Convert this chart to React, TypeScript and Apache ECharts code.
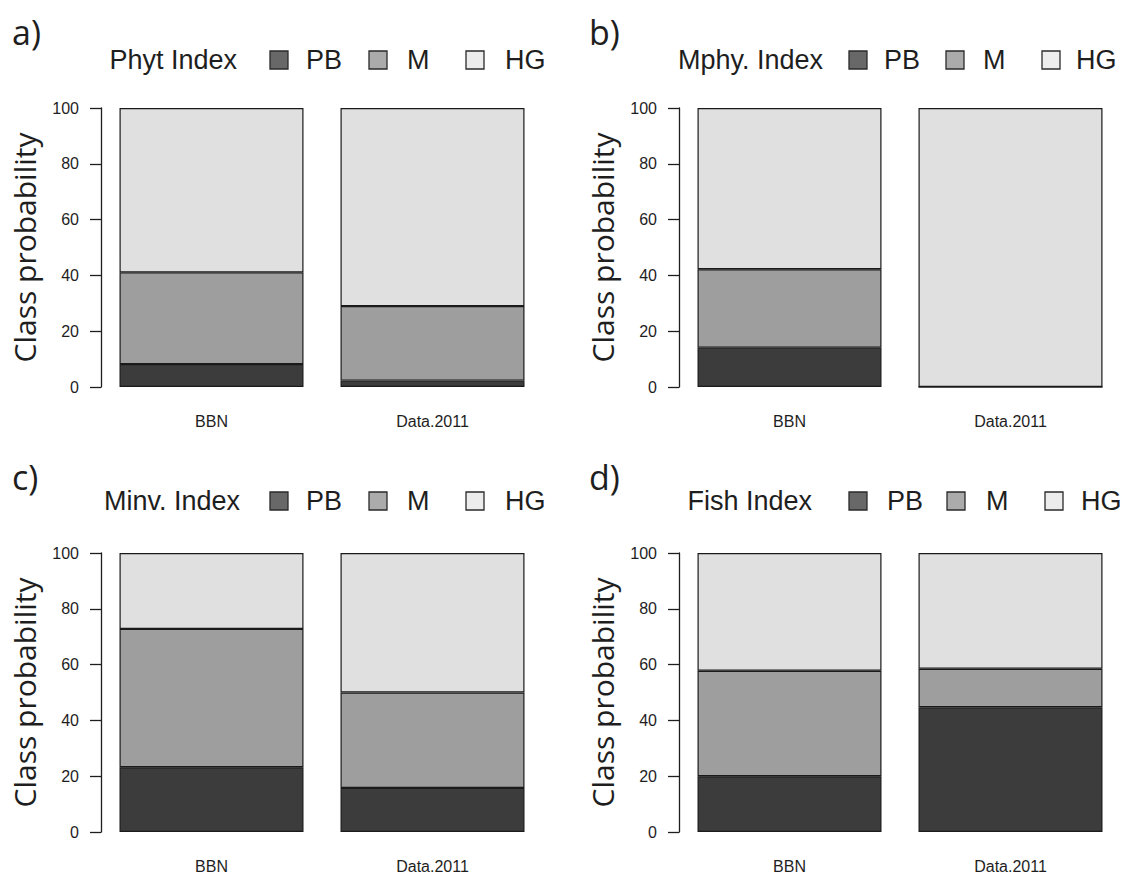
import React, { useEffect, useRef } from "react";
import * as echarts from "echarts";

// ---- data ----
const categories = ["BBN", "Data.2011"];
const classes = ["PB", "M", "HG"];
const panelLetters = ["a)", "b)", "c)", "d)"];
const indexNames = ["Phyt Index", "Mphy. Index", "Minv. Index", "Fish Index"];
// values per panel: [PB, M, HG] for each category
const phytPB = [8.2, 2.3];
const phytM = [32.9, 26.7];
const phytHG = [58.9, 71.0];
const mphyPB = [14.1, 0];
const mphyM = [28.1, 0];
const mphyHG = [57.8, 100];
const minvPB = [23.2, 15.8];
const minvM = [49.6, 34.2];
const minvHG = [27.2, 50.0];
const fishPB = [20.0, 44.7];
const fishM = [37.8, 13.8];
const fishHG = [42.2, 41.5];
const yTicks = [0, 20, 40, 60, 80, 100];

const panelData = [
  [phytPB, phytM, phytHG],
  [mphyPB, mphyM, mphyHG],
  [minvPB, minvM, minvHG],
  [fishPB, fishM, fishHG],
];

// ---- layout & style ----
const barColors = ["#3c3c3c", "#9e9e9e", "#e0e0e0"];
const legendColors = ["#686868", "#ababab", "#ececec"];
const layout = [
  { left: 101, top: 108, letterX: 12, letterY: 32, legendY: 60, titleRight: 237, boxX: [270, 369, 466], textX: [306, 407, 505] },
  { left: 679, top: 108, letterX: 589, letterY: 32, legendY: 60, titleRight: 823, boxX: [849, 946, 1042], textX: [884, 983, 1076] },
  { left: 101, top: 553, letterX: 12, letterY: 477, legendY: 501, titleRight: 240, boxX: [270, 369, 466], textX: [306, 407, 505] },
  { left: 679, top: 553, letterX: 589, letterY: 477, legendY: 501, titleRight: 812, boxX: [849, 947, 1045], textX: [887, 986, 1081] },
];
const gridW = 442;
const gridH = 279;
const sans = "'Liberation Sans', Arial, sans-serif";
const open = "'Open Sans', 'DejaVu Sans', sans-serif";
const ink = "#1e1e1e";

export default function App() {
  const ref = useRef<HTMLDivElement>(null);
  useEffect(() => {
    document.body.style.margin = "0";
    const chart = echarts.init(ref.current!, null, { renderer: "svg" });
    const grids: any[] = [];
    const xAxes: any[] = [];
    const yAxes: any[] = [];
    const series: any[] = [];
    const graphic: any[] = [];
    layout.forEach((L, p) => {
      grids.push({ left: L.left, top: L.top, width: gridW, height: gridH });
      xAxes.push({
        type: "category",
        gridIndex: p,
        data: categories,
        axisLine: { show: false },
        axisTick: { show: false },
        axisLabel: { margin: 26, fontSize: 16, color: ink, fontFamily: sans },
      });
      yAxes.push({
        type: "value",
        gridIndex: p,
        min: 0,
        max: 100,
        interval: 20,
        splitLine: { show: false },
        axisLine: { show: true, lineStyle: { color: ink, width: 1.3 } },
        axisTick: { show: true, length: 11, lineStyle: { color: ink, width: 1.3 } },
        axisLabel: {
          margin: 22,
          fontSize: 16,
          color: ink,
          fontFamily: sans,
          formatter: (v: number) => (yTicks.includes(v) ? String(v) : ""),
        },
      });
      classes.forEach((c, k) => {
        series.push({
          type: "bar",
          name: c,
          xAxisIndex: p,
          yAxisIndex: p,
          stack: "s" + p,
          barWidth: 184,
          data: panelData[p][k],
          itemStyle: { color: barColors[k], borderColor: "#1a1a1a", borderWidth: 1.2 },
        });
      });
      // panel letter
      graphic.push({
        type: "text",
        x: L.letterX,
        y: L.letterY,
        style: { text: panelLetters[p], fontSize: 34, fontFamily: open, fill: ink, textVerticalAlign: "middle" },
      });
      // y axis title
      graphic.push({
        type: "text",
        x: L.left - 77,
        y: L.top + gridH / 2,
        rotation: Math.PI / 2,
        style: {
          text: "Class probability",
          fontSize: 30,
          fontFamily: open,
          fill: ink,
          textAlign: "center",
          textVerticalAlign: "middle",
        },
      });
      // legend
      graphic.push({
        type: "text",
        x: L.titleRight,
        y: L.legendY,
        style: { text: indexNames[p], fontSize: 27, fontFamily: sans, fill: ink, textAlign: "right", textVerticalAlign: "middle" },
      });
      classes.forEach((c, k) => {
        graphic.push({
          type: "rect",
          shape: { x: L.boxX[k], y: L.legendY - 9, width: 18, height: 18 },
          style: { fill: legendColors[k], stroke: "#2a2a2a", lineWidth: 1.3 },
        });
        graphic.push({
          type: "text",
          x: L.textX[k],
          y: L.legendY,
          style: { text: c, fontSize: 27, fontFamily: sans, fill: ink, textAlign: "left", textVerticalAlign: "middle" },
        });
      });
    });
    chart.setOption({
      animation: false,
      backgroundColor: "#ffffff",
      grid: grids,
      xAxis: xAxes,
      yAxis: yAxes,
      series,
      graphic,
    });
    return () => chart.dispose();
  }, []);
  return <div ref={ref} style={{ width: 1126, height: 875 }} />;
}
